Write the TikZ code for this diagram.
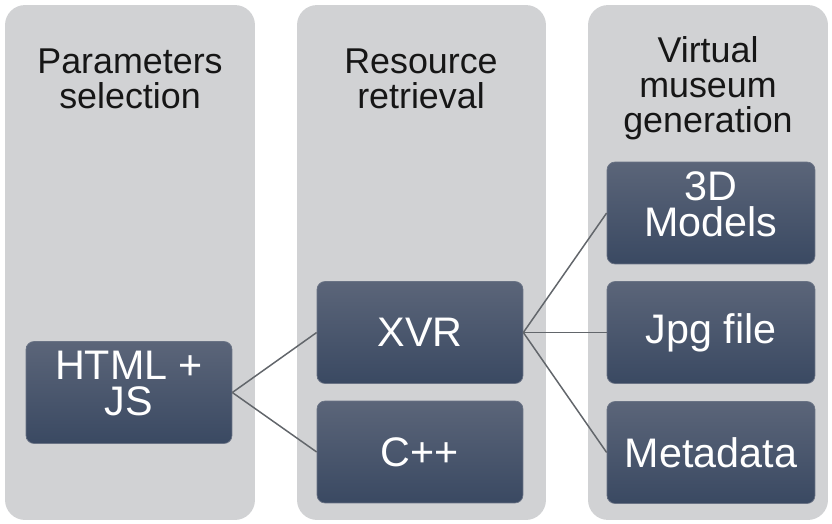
\documentclass[tikz,border=0pt]{standalone}
\usepackage{fontspec}
\setmainfont{Liberation Sans}
\definecolor{panelgray}{HTML}{D1D2D4}
\definecolor{boxtop}{HTML}{5B6579}
\definecolor{boxbot}{HTML}{3A4962}
\definecolor{boxedge}{HTML}{6A7385}
\definecolor{wire}{HTML}{62666B}
\definecolor{ink}{HTML}{161616}
\newcommand\lowpad{\rule[-0.36cm]{0pt}{0pt}}
\tikzset{
  column/.style={fill=panelgray, rounded corners=0.4cm, inner sep=0pt, minimum height=10.3cm},
  heading/.style={font=\fontsize{20.4}{19.8}\selectfont, text=ink, align=center, inner sep=0pt},
  tool/.style={top color=boxtop, bottom color=boxbot, draw=boxedge, line width=0.4pt,
    rounded corners=0.16cm, minimum width=4.12cm, minimum height=2.04cm, inner sep=0pt,
    text=white, align=center, font=\fontsize{23.5}{20.6}\selectfont},
  wire/.style={draw=wire, line width=0.85pt},
}

\begin{document}
\begin{tikzpicture}[x=0.02cm, y=-0.02cm]

\useasboundingbox (0,0) rectangle (832,524);

% ---------------- columns ----------------
\node[column, minimum width=5cm]    (colsel) at (130,262.5) {};
\node[column, minimum width=4.98cm] (colret) at (421.5,262.5) {};
\node[column, minimum width=4.8cm]  (colgen) at (708,262.5) {};

\node[heading] (hsel) at (130,79) {Parameters\\selection};
\node[heading] (hret) at (421,79) {Resource\\retrieval};
\node[heading] (hgen) at (708,88) {Virtual\\museum\\generation};

% ---------------- tools ----------------
\node[tool] (html) at (129,392.5) {HTML +\\JS\lowpad};
\node[tool] (xvr)  at (420,332.5) {XVR};
\node[tool] (cpp)  at (420,452)   {C++};
\node[tool, minimum width=4.16cm] (models) at (711,213)   {3D\\Models\lowpad};
\node[tool, minimum width=4.16cm] (jpg)    at (711,332.5) {Jpg file};
\node[tool, minimum width=4.16cm] (meta)   at (711,452.5) {Metadata};

% ---------------- links ----------------
\draw[wire] (html.east) -- (xvr.west);
\draw[wire] (html.east) -- (cpp.west);
\foreach \t in {models,jpg,meta}
  \draw[wire] (xvr.east) -- (\t.west);

\end{tikzpicture}
\end{document}
